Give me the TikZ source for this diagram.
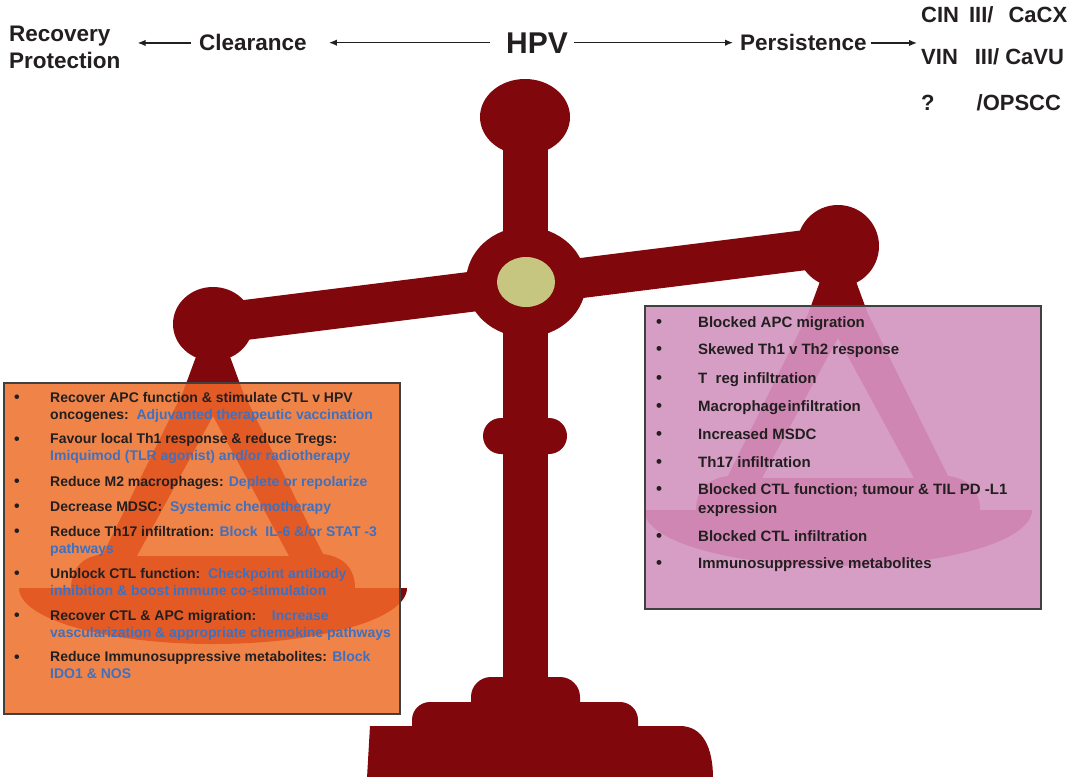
\documentclass[tikz,border=0pt]{standalone}
\usepackage{fontspec}
\setmainfont{Liberation Sans}
\usetikzlibrary{arrows.meta,calc,positioning}

\definecolor{beam}{RGB}{128,7,11}
\definecolor{pivotdot}{RGB}{199,198,129}
\definecolor{curebox}{RGB}{240,132,72}
\definecolor{curepan}{RGB}{228,90,36}
\definecolor{causebox}{RGB}{214,158,196}
\definecolor{causepan}{RGB}{208,134,178}
\definecolor{ink}{RGB}{35,31,32}
\definecolor{therapy}{RGB}{62,112,192}

\newcommand{\ther}[1]{\textcolor{therapy}{#1}}

\tikzset{
  lbl/.style={inner sep=0pt, text=ink, font=\fontsize{22.5}{27}\selectfont\bfseries},
  outcome/.style={lbl, anchor=base west, font=\fontsize{22}{26}\selectfont\bfseries},
  flow/.style={draw=ink, line width=1.3pt, -{Latex[length=8pt,width=6.5pt]}},
  boxline/.style={draw=black!75, line width=1.3pt},
  % multi-line items sit on the baseline of their last line
  cure/.style={anchor=base west, align=left, inner sep=0pt, text=ink,
    font=\fontsize{14}{17}\selectfont\bfseries},
  cause/.style={anchor=base west, align=left, inner sep=0pt, text=ink,
    font=\fontsize{15}{19}\selectfont\bfseries},
  bul/.style={anchor=base, inner sep=0pt, text=ink},
  % hanging pan, drawn round the cup centre
  pan shape/.style={insert path={
    (-16,30) -- (16,30) -- (30,68) -- (110,230)
    .. controls (134,233) and (142,248) .. (142,264) -- (194,264)
    .. controls (194,295) and (107,320) .. (0,320)
    .. controls (-107,320) and (-194,295) .. (-194,264) -- (-142,264)
    .. controls (-142,248) and (-134,233) .. (-110,230) -- (-30,68) -- cycle
    (0,92) -- (76,232) -- (-76,232) -- cycle}},
}

\begin{document}
\begin{tikzpicture}[x=1pt,y=-1pt]
\fill[white] (0,0) rectangle (1081,776);
\useasboundingbox (0,0) rectangle (1081,776);

% the balance
\coordinate (lcup) at (213,324);
\coordinate (rcup) at (838,246);
\coordinate (pivot) at (526,282);
\fill[beam] (503,115) rectangle (548,690);
\fill[beam] (525,117) ellipse [x radius=45, y radius=38];
\fill[beam, rounded corners=18pt] (483,418) rectangle (567,454);
\draw[beam, line width=40pt] (lcup) -- (rcup);
\fill[beam] (lcup) ellipse [x radius=40, y radius=37];
\fill[beam] (rcup) circle (41);
\fill[beam] (pivot) ellipse [x radius=60, y radius=55];
\fill[pivotdot] (pivot) ellipse [x radius=29, y radius=25];
\fill[beam, even odd rule, shift={(lcup)}, pan shape];
\fill[beam, even odd rule, shift={(rcup)}, pan shape];

% stepped foot
\fill[beam] (471,705) [rounded corners=20pt] -- (471,677) -- (580,677) [sharp corners] -- (580,705) -- cycle;
\fill[beam] (412,730) [rounded corners=18pt] -- (412,702) -- (638,702) [sharp corners] -- (638,730) -- cycle;
\fill[beam] (367,778) -- (370,726) -- (680,726) .. controls (703,726) and (713,748) .. (713,778) -- cycle;

% boxes, with the pans showing through
\fill[curebox] (4,383) rectangle (400,714);
\begin{scope}
  \clip (4,383) rectangle (400,714);
  \fill[curepan, even odd rule, shift={(lcup)}, pan shape];
\end{scope}
\draw[boxline] (4,383) rectangle (400,714);

\fill[causebox] (645,306) rectangle (1041,609);
\begin{scope}
  \clip (645,306) rectangle (1041,609);
  \fill[causepan, even odd rule, shift={(rcup)}, pan shape];
\end{scope}
\draw[boxline] (645,306) rectangle (1041,609);

% top line
\node[lbl, align=left, anchor=base west] (recov) at (9,69) {Recovery\\Protection};
\node[lbl, anchor=base west] (clear) at (199,51) {Clearance};
\node[lbl, anchor=base, font=\fontsize{30}{34}\selectfont\bfseries] (hpv) at (537,53) {HPV};
\node[lbl, anchor=base west] (pers) at (740,51) {Persistence};
\node[outcome] (cin) at (921,23) {CIN\hspace{10pt}III/\hspace{15pt}CaCX};
\node[outcome] (vin) at (921,64) {VIN\hspace{17pt}III/\hspace{6pt}CaVU};
\node[outcome] (opscc) at (921,110) {?\hspace{42pt}/OPSCC};

\draw[flow, shorten <=8pt, shorten >=17pt] (clear.west) -- (clear.west -| recov.east);
\draw[flow, shorten <=16pt, shorten >=22pt] (hpv.west) -- (hpv.west -| clear.east);
\draw[flow, shorten <=6pt, shorten >=7pt] (hpv.east) -- (hpv.east -| pers.west);
\draw[flow, shorten <=4pt, shorten >=4pt] (pers.east) -- (pers.east -| cin.west);

% clearance side
\node[cure] (c1) at (50,419) {Recover APC function \& stimulate CTL v HPV\\oncogenes:\ \ \ther{Adjuvanted therapeutic vaccination}};
\node[cure] (c2) at (50,460) {Favour local Th1 response \& reduce Tregs:\\\ther{Imiquimod (TLR agonist) and/or radiotherapy}};
\node[cure] (c3) at (50,486) {Reduce M2 macrophages: \ther{Deplete or repolarize}};
\node[cure] (c4) at (50,511) {Decrease MDSC:\ \ \ther{Systemic chemotherapy}};
\node[cure] (c5) at (50,553) {Reduce Th17 infiltration: \ther{Block\ \ IL-6 \&/or STAT -3}\\\ther{pathways}};
\node[cure] (c6) at (50,595) {Unblock CTL function:\ \ \ther{Checkpoint antibody}\\\ther{inhibition \& boost immune co-stimulation}};
\node[cure] (c7) at (50,637) {Recover CTL \& APC migration:\ \ \ \ \ther{Increase}\\\ther{vascularization \& appropriate chemokine pathways}};
\node[cure] (c8) at (50,678) {Reduce Immunosuppressive metabolites: \ther{Block}\\\ther{IDO1 \& NOS}};
\foreach \n/\y in {c1/402,c2/444,c3/486,c4/511,c5/536,c6/578,c7/620,c8/662}
  \node[bul, font=\fontsize{16}{17}\selectfont\bfseries] (\n dot) at (17,\y) {\textbullet};

% persistence side
\node[cause] (p1) at (698,327) {Blocked APC migration};
\node[cause] (p2) at (698,354) {Skewed Th1 v Th2 response};
\node[cause] (p3) at (698,383) {T\ \ reg infiltration};
\node[cause] (p4) at (698,411) {Macrophage\hspace{1pt}infiltration};
\node[cause] (p5) at (698,439) {Increased MSDC};
\node[cause] (p6) at (698,467) {Th17 infiltration};
\node[cause] (p7) at (698,513) {Blocked CTL function; tumour \& TIL PD -L1\\expression};
\node[cause] (p8) at (698,541) {Blocked CTL infiltration};
\node[cause] (p9) at (698,568) {Immunosuppressive metabolites};
\foreach \n/\y in {p1/327,p2/354,p3/383,p4/411,p5/439,p6/467,p7/494,p8/541,p9/568}
  \node[bul, font=\fontsize{17}{19}\selectfont\bfseries] (\n dot) at (659,\y) {\textbullet};
\end{tikzpicture}
\end{document}
